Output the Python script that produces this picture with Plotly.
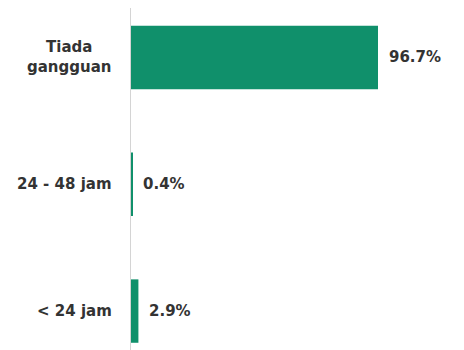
import plotly.graph_objects as go

categories = ["< 24 jam", "24 - 48 jam", "Tiada<br>gangguan"]
values = [2.9, 0.4, 96.7]
labels = ["2.9%", "0.4%", "96.7%"]

BAR = "#10906b"
TXT = "#333333"
FONT = "DejaVu Sans"

fig = go.Figure()
fig.add_trace(go.Bar(
    x=values, y=categories, orientation="h",
    marker=dict(color=BAR, line=dict(width=0)),
    width=0.5, hoverinfo="skip",
))

for v, c, t in zip(values, categories, labels):
    fig.add_annotation(x=v, y=c, text="<b>%s</b>" % t, showarrow=False,
                       xanchor="left", xshift=9,
                       font=dict(family=FONT, size=15, color=TXT))
    # category label, centred lines, to the left of the axis
    fig.add_annotation(x=0, xref="paper", y=c, text="<b>%s</b>" % c,
                       showarrow=False, xanchor="right", align="center",
                       xshift=-17,
                       font=dict(family=FONT, size=15, color=TXT))

fig.update_layout(
    width=464, height=350,
    margin=dict(l=123, r=0, t=0, b=8, autoexpand=False),
    paper_bgcolor="white", plot_bgcolor="white",
    showlegend=False,
    xaxis=dict(range=[0, 133.5], visible=False, showgrid=False,
               zeroline=False, automargin=False),
    yaxis=dict(
        type="category", categoryorder="array", categoryarray=categories,
        range=[-0.307, 2.39], automargin=False,
        showgrid=False, zeroline=False,
        showline=True, linecolor="#d4d4d4", linewidth=1,
        ticks="", showticklabels=False,
    ),
)

fig.write_html("out.html")
